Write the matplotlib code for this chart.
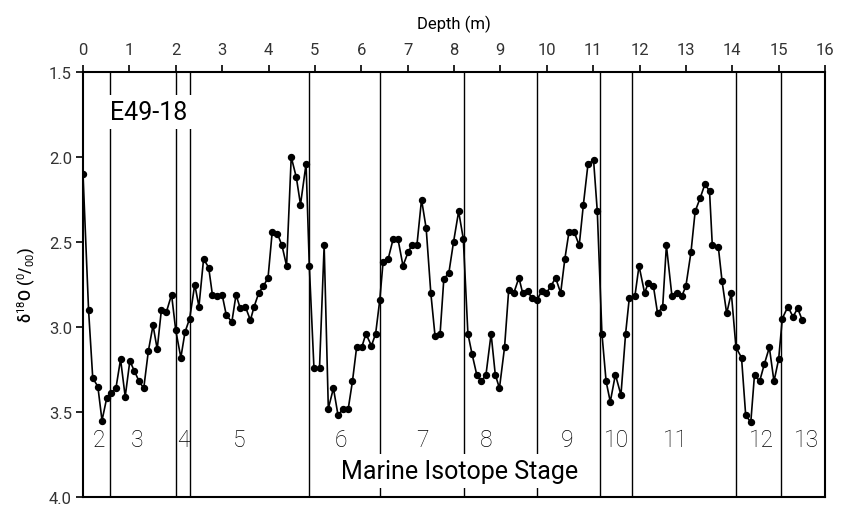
import matplotlib
matplotlib.use("Agg")
import matplotlib.pyplot as plt

plt.rcParams['font.family'] = ['Roboto', 'DejaVu Sans']
plt.rcParams['mathtext.fontset'] = 'custom'
plt.rcParams['mathtext.rm'] = 'Roboto'
plt.rcParams['mathtext.it'] = 'Roboto:italic'
plt.rcParams['mathtext.bf'] = 'Roboto:bold'

depth = [0.00, 0.12, 0.21, 0.32, 0.41, 0.51, 0.61, 0.71, 0.81, 0.91,
         1.01, 1.11, 1.21, 1.31, 1.41, 1.51, 1.60, 1.69, 1.80, 1.91,
         2.00, 2.11, 2.20, 2.30, 2.41, 2.50, 2.60, 2.71, 2.79, 2.89,
         3.00, 3.09, 3.21, 3.30, 3.39, 3.50, 3.61, 3.69, 3.79, 3.89,
         3.99, 4.08, 4.19, 4.29, 4.39, 4.49, 4.60, 4.69, 4.81, 4.88,
         4.98, 5.10, 5.20, 5.29, 5.40, 5.50, 5.61, 5.72, 5.81, 5.90,
         6.01, 6.10, 6.22, 6.31, 6.40, 6.47, 6.58, 6.69, 6.79, 6.90,
         7.01, 7.09, 7.20, 7.30, 7.40, 7.50, 7.59, 7.70, 7.78, 7.89,
         7.99, 8.10, 8.20, 8.30, 8.39, 8.49, 8.59, 8.69, 8.80, 8.89,
         8.98, 9.09, 9.18, 9.29, 9.40, 9.48, 9.59, 9.68, 9.79, 9.89,
         9.99, 10.09, 10.19, 10.30, 10.39, 10.48, 10.59, 10.70, 10.79, 10.89,
         11.01, 11.09, 11.19, 11.28, 11.37, 11.48, 11.60, 11.70, 11.78, 11.90,
         11.99, 12.11, 12.19, 12.30, 12.39, 12.50, 12.58, 12.70, 12.80, 12.91,
         13.00, 13.11, 13.20, 13.31, 13.41, 13.51, 13.57, 13.70, 13.78, 13.88,
         13.98, 14.08, 14.20, 14.29, 14.40, 14.48, 14.59, 14.69, 14.80, 14.90,
         15.00, 15.08, 15.20, 15.31, 15.41, 15.51]
d18o = [2.10, 2.90, 3.30, 3.35, 3.55, 3.42, 3.39, 3.36, 3.19, 3.41,
        3.20, 3.26, 3.32, 3.36, 3.14, 2.99, 3.13, 2.90, 2.91, 2.81,
        3.02, 3.18, 3.03, 2.95, 2.75, 2.88, 2.60, 2.65, 2.81, 2.82,
        2.81, 2.93, 2.97, 2.81, 2.89, 2.88, 2.96, 2.88, 2.80, 2.76,
        2.71, 2.44, 2.45, 2.52, 2.64, 2.00, 2.12, 2.28, 2.04, 2.64,
        3.24, 3.24, 2.52, 3.48, 3.36, 3.52, 3.48, 3.48, 3.32, 3.12,
        3.12, 3.04, 3.11, 3.04, 2.84, 2.62, 2.60, 2.48, 2.48, 2.64,
        2.56, 2.52, 2.52, 2.25, 2.42, 2.80, 3.05, 3.04, 2.72, 2.68,
        2.50, 2.32, 2.48, 3.04, 3.16, 3.28, 3.32, 3.28, 3.04, 3.28,
        3.36, 3.12, 2.78, 2.80, 2.71, 2.80, 2.79, 2.83, 2.84, 2.79,
        2.80, 2.76, 2.71, 2.80, 2.60, 2.44, 2.44, 2.52, 2.28, 2.04,
        2.02, 2.32, 3.04, 3.32, 3.44, 3.28, 3.40, 3.04, 2.83, 2.82,
        2.64, 2.80, 2.74, 2.76, 2.92, 2.88, 2.52, 2.82, 2.80, 2.82,
        2.76, 2.56, 2.32, 2.24, 2.16, 2.20, 2.52, 2.53, 2.73, 2.92,
        2.80, 3.12, 3.18, 3.52, 3.56, 3.28, 3.32, 3.22, 3.12, 3.32,
        3.19, 2.95, 2.88, 2.94, 2.89, 2.96]

boundaries = [0.58, 2.01, 2.31, 4.87, 6.40, 8.21, 9.79, 11.14, 11.83, 14.09, 15.05]
stage_labels = ['2', '3', '4', '5', '6', '7', '8', '9', '10', '11', '12', '13']
stage_x = [0.35, 1.16, 2.16, 3.37, 5.56, 7.32, 8.70, 10.45, 11.51, 12.77, 14.63, 15.60]

x_ticks = list(range(0, 17))
y_ticks = [1.5, 2.0, 2.5, 3.0, 3.5, 4.0]

fig = plt.figure(figsize=(8.48, 5.06), dpi=100)
ax = fig.add_axes([83/848, 1-498/506, (825-83)/848, (498-73)/506])

for b in boundaries:
    ax.plot([b, b], [1.5, 4.0], color='black', lw=1.0, zorder=1)

ax.plot(depth, d18o, color='black', lw=1.2, marker='o', markersize=4.3, zorder=3)

for lab, xs in zip(stage_labels, stage_x):
    ax.text(xs, 3.66, lab, ha='center', va='center', fontsize=16.5,
            fontweight='light', color='black', zorder=4)

ax.text(1.41, 1.774, 'E49-18', ha='center', va='baseline', fontsize=18,
        color='black', zorder=5,
        bbox=dict(boxstyle='square,pad=0.2', fc='white', ec='none'))
ax.text(8.13, 3.89, 'Marine Isotope Stage', ha='center', va='baseline', fontsize=18,
        color='black', zorder=5,
        bbox=dict(boxstyle='square,pad=0.2', fc='white', ec='none'))

ax.set_xlim(0, 16)
ax.set_ylim(4.0, 1.5)
ax.xaxis.tick_top()
ax.xaxis.set_label_position('top')
ax.set_xticks(x_ticks)
ax.set_yticks(y_ticks)
ax.set_yticklabels([f'{v:.1f}' for v in y_ticks])
ax.tick_params(axis='x', direction='out', length=5, width=1.2, labelsize=12,
               labelcolor='#333333', pad=6)
ax.tick_params(axis='y', direction='out', length=5, width=1.2, labelsize=12,
               labelcolor='#333333', pad=3)
for lab in ax.get_xticklabels() + ax.get_yticklabels():
    lab.set_fontweight('normal')
for s in ax.spines.values():
    s.set_linewidth(1.5)
ax.set_xlabel('Depth (m)', fontsize=12, labelpad=10)
ax.set_ylabel(r'δ$^{18}$O ($^{0}$/$_{00}$)', fontsize=11.5, fontweight='medium', labelpad=8)

fig.savefig('out.png', dpi=100)
